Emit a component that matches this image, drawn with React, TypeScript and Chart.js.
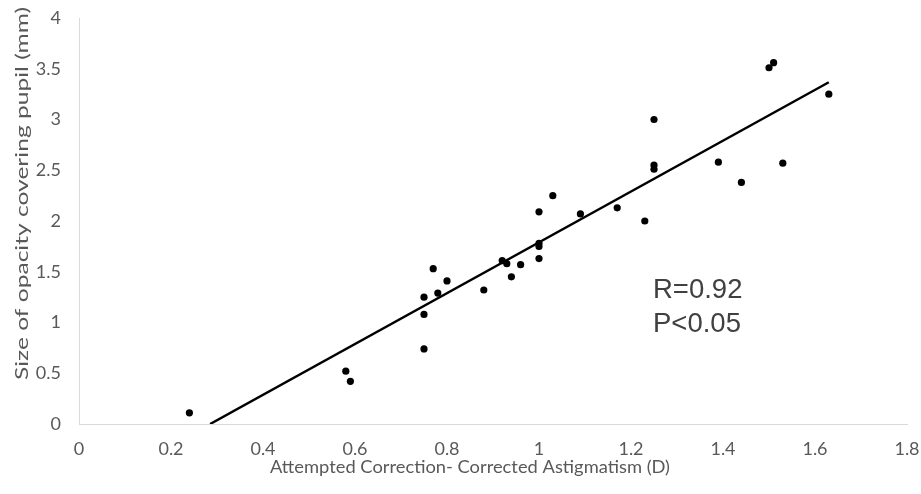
import React, { useEffect, useRef } from "react";
import { Chart, registerables } from "chart.js";

Chart.register(...registerables);

// Measured points: attempted correction - corrected astigmatism (D) vs opacity size (mm)
const correctionD = [
  0.24, 0.58, 0.59, 0.75, 0.75, 0.75, 0.77, 0.78, 0.8, 0.88, 0.92, 0.93, 0.94,
  0.96, 1.0, 1.0, 1.0, 1.0, 1.03, 1.09, 1.17, 1.23, 1.25, 1.25, 1.25, 1.39,
  1.44, 1.5, 1.51, 1.53, 1.63,
];
const opacityMm = [
  0.11, 0.52, 0.42, 0.74, 1.08, 1.25, 1.53, 1.29, 1.41, 1.32, 1.61, 1.58, 1.45,
  1.57, 1.63, 1.75, 1.78, 2.09, 2.25, 2.07, 2.13, 2.0, 2.51, 2.55, 3.0, 2.58,
  2.38, 3.51, 3.56, 2.57, 3.25,
];

// Trend line end points
const trendX = [0.285, 1.63];
const trendY = [0.0, 3.367];

const xTitle = "Attempted Correction- Corrected Astigmatism (D)";
const yTitle = "Size of opacity covering pupil (mm)";
const statLines = ["R=0.92", "P<0.05"];

const FONT_FAMILY = "Lato, 'Open Sans', sans-serif";
const TICK_FONT = { family: FONT_FAMILY, size: 18 };
const GREY = "#595959";

const textPlugin = {
  id: "customText",
  afterDraw(chart: any) {
    const { ctx, chartArea } = chart;
    ctx.save();
    ctx.fillStyle = GREY;
    ctx.font = "18px " + FONT_FAMILY;
    // x title
    ctx.textAlign = "center";
    ctx.textBaseline = "alphabetic";
    const xw = ctx.measureText(xTitle).width;
    ctx.save();
    ctx.translate(chartArea.left + 391, 473);
    ctx.scale(400 / xw, 1);
    ctx.fillText(xTitle, 0, 0);
    ctx.restore();
    // y title
    const yw = ctx.measureText(yTitle).width;
    ctx.save();
    ctx.translate(28, 193.5);
    ctx.rotate(-Math.PI / 2);
    ctx.scale(373 / yw, 1);
    ctx.textAlign = "center";
    ctx.textBaseline = "alphabetic";
    ctx.fillText(yTitle, 0, 0);
    ctx.restore();
    // stats annotation
    ctx.fillStyle = "#404040";
    ctx.font = "27.5px 'Liberation Sans', Arial, sans-serif";
    ctx.textAlign = "left";
    ctx.textBaseline = "alphabetic";
    const sx = chartArea.left + 574;
    ctx.fillText(statLines[0], sx, 298);
    ctx.fillText(statLines[1], sx, 332);
    ctx.restore();
  },
};

const fmt = (v: any) => String(Number(v));

export default function App() {
  const canvasRef = useRef<HTMLCanvasElement | null>(null);

  useEffect(() => {
    document.body.style.margin = "0";
    const canvas = canvasRef.current;
    if (!canvas) return;
    const points = correctionD.map((x, i) => ({ x, y: opacityMm[i] }));
    const trend = trendX.map((x, i) => ({ x, y: trendY[i] }));
    const chart = new Chart(canvas, {
      type: "scatter",
      data: {
        datasets: [
          {
            type: "line",
            data: trend,
            borderColor: "#000000",
            borderWidth: 2.5,
            pointRadius: 0,
            fill: false,
            order: 2,
          } as any,
          {
            type: "scatter",
            data: points,
            backgroundColor: "#000000",
            borderColor: "#000000",
            borderWidth: 0,
            pointRadius: 3.6,
            order: 1,
          },
        ],
      },
      options: {
        animation: false,
        responsive: false,
        devicePixelRatio: 1,
        layout: { padding: { top: 18, right: 14, left: 0, bottom: 0 } },
        plugins: {
          legend: { display: false },
          tooltip: { enabled: false },
        },
        scales: {
          x: {
            type: "linear",
            min: 0,
            max: 1.8,
            grid: { display: false, drawTicks: false },
            border: { display: true, color: "#d9d9d9", width: 1 },
            ticks: {
              stepSize: 0.2,
              color: GREY,
              font: TICK_FONT,
              padding: 14,
              callback: fmt,
            },
            afterFit(scale: any) {
              scale.height = 70;
              scale.paddingLeft = 0;
              scale.paddingRight = 0;
            },
          },
          y: {
            type: "linear",
            min: 0,
            max: 4,
            grid: { display: false, drawTicks: false },
            border: { display: true, color: "#d9d9d9", width: 1 },
            ticks: {
              stepSize: 0.5,
              color: GREY,
              font: TICK_FONT,
              padding: 18,
              callback: fmt,
            },
            afterFit(scale: any) {
              scale.width = 79;
              scale.paddingTop = 0;
              scale.paddingBottom = 0;
            },
          },
        },
      },
      plugins: [textPlugin],
    });
    return () => chart.destroy();
  }, []);

  return (
    <div style={{ width: 921, height: 494, background: "#ffffff" }}>
      <canvas ref={canvasRef} width={921} height={494} style={{ display: "block" }} />
    </div>
  );
}
